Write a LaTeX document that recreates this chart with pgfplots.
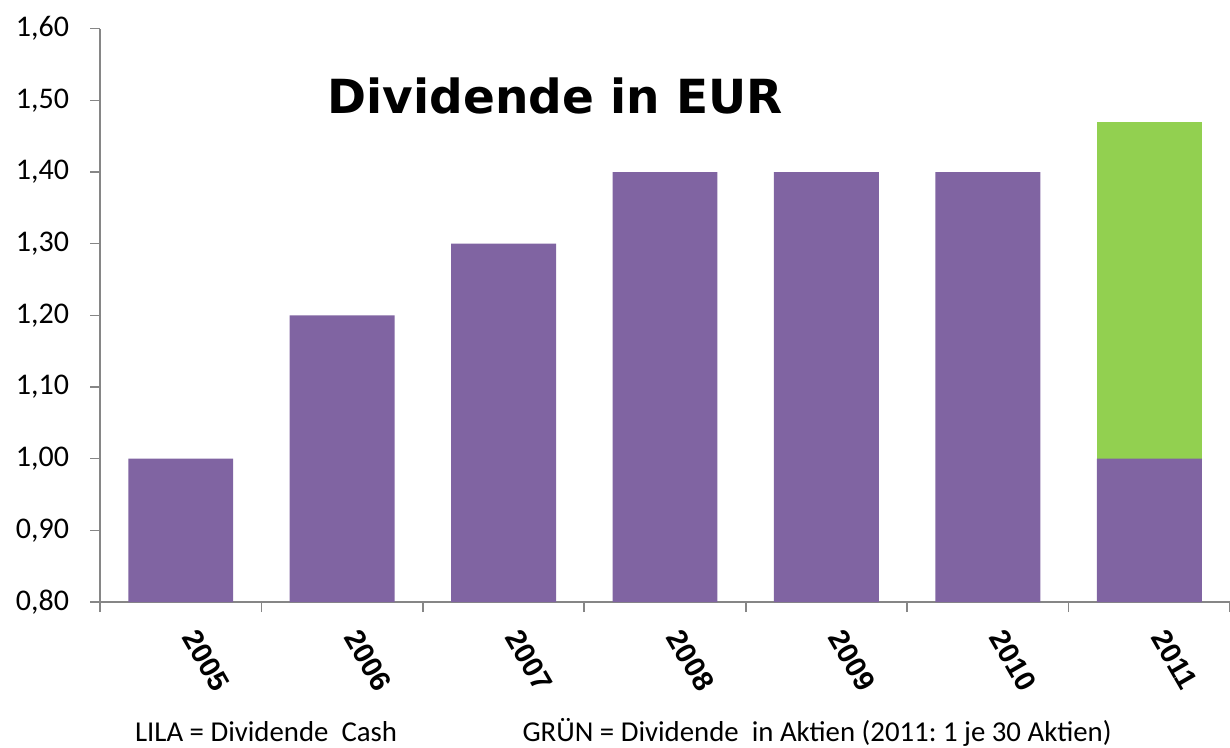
\documentclass[border=0pt]{standalone}
\usepackage{fontspec}
\setmainfont{Carlito}
\newfontfamily\arialbold{Liberation Sans Bold}
\newfontfamily\titlefont{DejaVu Sans Bold}
\usepackage{pgfplots}
\pgfplotsset{compat=1.18}
\definecolor{lila}{HTML}{8064A2}
\definecolor{gruen}{HTML}{92D050}
\definecolor{axgray}{HTML}{868686}
\newcommand{\lab}[1]{{\arialbold\fontsize{14.5}{17}\selectfont #1}}
\begin{document}
\begin{tikzpicture}
\begin{axis}[
  name=ax,
  scale only axis,
  width=565pt, height=286.65pt,
  xmin=-0.5, xmax=6.5,
  ymin=0.8, ymax=1.6,
  ybar stacked,
  bar width=0.65,
  clip mode=individual,
  axis x line*=bottom, axis y line*=left,
  axis line style={draw=axgray, line width=0.8pt, -},
  tick align=outside,
  xtick={0,1,2,3,4,5,6},
  xticklabels={\lab{2005},\lab{2006},\lab{2007},\lab{2008},\lab{2009},\lab{2010},\lab{2011}},
  major x tick style={draw=none},
  minor xtick={-0.5,0.5,1.5,2.5,3.5,4.5,5.5,6.5},
  minor x tick style={draw=axgray, line width=0.8pt},
  minor tick length=5pt,
  ytick={0.8,0.9,1.0,1.1,1.2,1.3,1.4,1.5,1.6},
  y tick style={draw=axgray, line width=0.8pt},
  major tick length=5pt,
  yticklabel style={/pgf/number format/fixed, /pgf/number format/fixed zerofill,
    /pgf/number format/precision=2, /pgf/number format/use comma,
    /pgf/number format/assume math mode=true,
    font=\fontsize{15}{18}\selectfont, anchor=east, xshift=-7pt},
  xticklabel style={yshift=-7pt, xshift=3pt, rotate=-60, anchor=west},
]
\addplot[fill=lila, draw=none] coordinates {(0,1.00) (1,1.20) (2,1.30) (3,1.40) (4,1.40) (5,1.40) (6,1.00)};
\addplot[fill=gruen, draw=none] coordinates {(0,0) (1,0) (2,0) (3,0) (4,0) (5,0) (6,0.47)};
\node[font=\titlefont\fontsize{23.5}{28}\selectfont, anchor=center] at (axis cs:2.32,1.506) {Dividende in EUR};
\node[font=\fontsize{14.4}{17}\selectfont, anchor=center] at (rel axis cs:0.147,-0.2268) {LILA = Dividende\ \ Cash};
\node[font=\fontsize{14.4}{17}\selectfont, anchor=center] at (rel axis cs:0.6345,-0.2268) {GRÜN = Dividende\ \ in Aktien (2011:\ 1 je 30 Aktien)};
\end{axis}
\pgfresetboundingbox
\path[use as bounding box] ([shift={(-50pt,-72.5pt)}]ax.south west) rectangle ([shift={(0pt,14.35pt)}]ax.north east);
\end{tikzpicture}
\end{document}
